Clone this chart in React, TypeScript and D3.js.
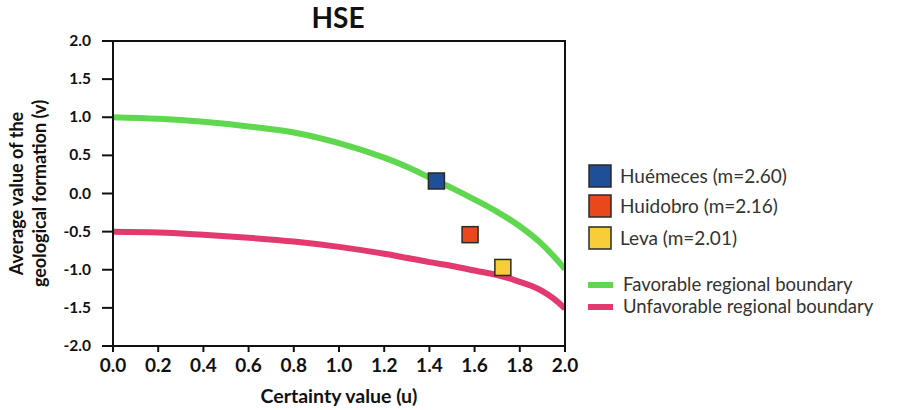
import React from "react";
import * as d3 from "d3";

const favU = [0, 0.2, 0.4, 0.6, 0.8, 1.0, 1.2, 1.3, 1.4, 1.5, 1.6, 1.7, 1.8, 1.9, 2.0];
const favV = [1.0, 0.98, 0.94, 0.88, 0.8, 0.66, 0.47, 0.35, 0.21, 0.07, -0.08, -0.24, -0.43, -0.67, -0.99];
const unfavU = [0, 0.2, 0.4, 0.6, 0.8, 1.0, 1.2, 1.4, 1.5, 1.6, 1.7, 1.75, 1.8, 1.85, 1.9, 1.95, 2.0];
const unfavV = [-0.5, -0.51, -0.54, -0.58, -0.63, -0.7, -0.79, -0.9, -0.95, -1.01, -1.07, -1.11, -1.16, -1.21, -1.28, -1.38, -1.51];

const siteNames = ["Huémeces (m=2.60)", "Huidobro (m=2.16)", "Leva (m=2.01)"];
const siteU = [1.431, 1.58, 1.725];
const siteV = [0.164, -0.54, -0.97];
const siteColors = ["#1f4f96", "#e8481c", "#f8cd3a"];

const lineNames = ["Favorable regional boundary", "Unfavorable regional boundary"];
const lineColors = ["#5fd84f", "#e23a6e"];

const xTicks = [0, 0.2, 0.4, 0.6, 0.8, 1.0, 1.2, 1.4, 1.6, 1.8, 2.0];
const yTicks = [2.0, 1.5, 1.0, 0.5, 0.0, -0.5, -1.0, -1.5, -2.0];

const W = 898, H = 410;
const L = 113, T = 41, R = 565, B = 346;
const FONT = "Lato, 'Open Sans', sans-serif";

export default function App() {
  const x = d3.scaleLinear().domain([0, 2]).range([L, R]);
  const y = d3.scaleLinear().domain([-2, 2]).range([B, T]);
  const line = d3
    .line<[number, number]>()
    .x((d) => x(d[0]))
    .y((d) => y(d[1]))
    .curve(d3.curveCatmullRom.alpha(0.5));
  const fav = line(favU.map((u, i) => [u, favV[i]] as [number, number])) || "";
  const unfav = line(unfavU.map((u, i) => [u, unfavV[i]] as [number, number])) || "";
  const legendSqY = [176, 206, 238];
  const legendLineY = [285, 307];
  return (
    <svg width={W} height={H} style={{ position: "absolute", left: 0, top: 0, background: "#fff" }} fontFamily={FONT}>
      <rect x={0} y={0} width={W} height={H} fill="#fff" />
      <text x={338} y={28} textAnchor="middle" fontSize={28} fontWeight="bold" fill="#111">HSE</text>
      <defs>
        <clipPath id="plotclip">
          <rect x={L} y={T} width={R - L} height={B - T} />
        </clipPath>
      </defs>
      <g clipPath="url(#plotclip)">
        <path d={unfav} fill="none" stroke={lineColors[1]} strokeWidth={6} strokeLinecap="butt" />
        <path d={fav} fill="none" stroke={lineColors[0]} strokeWidth={6} strokeLinecap="butt" />
      </g>
      {siteU.map((u, i) => (
        <rect key={i} x={x(u) - 8} y={y(siteV[i]) - 8} width={16} height={16} fill={siteColors[i]} stroke="#2a2a2a" strokeWidth={1.5} />
      ))}
      <rect x={L} y={T} width={R - L} height={B - T} fill="none" stroke="#111" strokeWidth={2} />
      {yTicks.map((t) => (
        <g key={"y" + t}>
          <line x1={L - 11} x2={L} y1={y(t)} y2={y(t)} stroke="#111" strokeWidth={2} />
          <text x={91} y={y(t) + 5} textAnchor="end" fontSize={15.5} fontWeight="bold" fill="#111">{t.toFixed(1)}</text>
        </g>
      ))}
      {xTicks.map((t) => (
        <g key={"x" + t}>
          <line x1={x(t)} x2={x(t)} y1={B} y2={B + 6} stroke="#111" strokeWidth={2} />
          <text x={x(t)} y={372} textAnchor="middle" fontSize={19} fontWeight="bold" fill="#111">{t.toFixed(1)}</text>
        </g>
      ))}
      <text x={339} y={403} textAnchor="middle" fontSize={19.5} fontWeight="bold" fill="#111">Certainty value (u)</text>
      <text transform={`translate(23,${(T + B) / 2}) rotate(-90)`} textAnchor="middle" fontSize={18} fontWeight="bold" fill="#111">Average value of the</text>
      <text transform={`translate(46,${(T + B) / 2}) rotate(-90)`} textAnchor="middle" fontSize={18} fontWeight="bold" fill="#111">geological formation (v)</text>
      {siteNames.map((n, i) => (
        <g key={n}>
          <rect x={589} y={legendSqY[i] - 11} width={22} height={22} fill={siteColors[i]} stroke="#2a2a2a" strokeWidth={1.5} />
          <text x={620} y={legendSqY[i] + 7} fontSize={19} fill="#333">{n}</text>
        </g>
      ))}
      {lineNames.map((n, i) => (
        <g key={n}>
          <line x1={588} x2={613} y1={legendLineY[i]} y2={legendLineY[i]} stroke={lineColors[i]} strokeWidth={6} />
          <text x={623} y={legendLineY[i] + 6} fontSize={18.5} fill="#333">{n}</text>
        </g>
      ))}
    </svg>
  );
}
